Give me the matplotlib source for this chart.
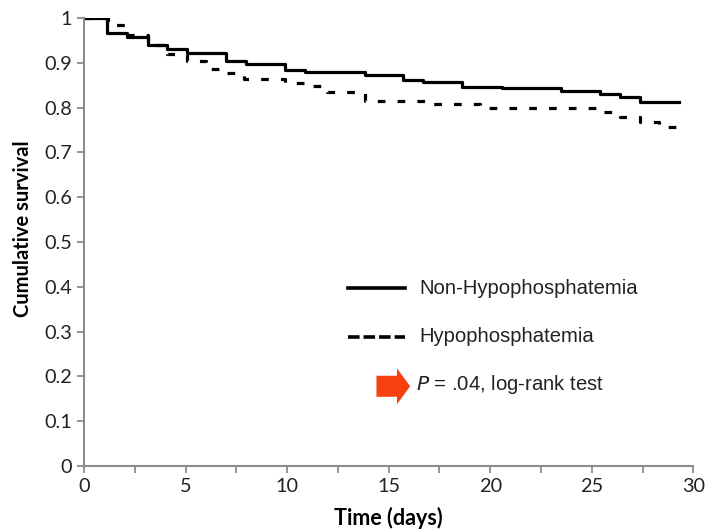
"""Kaplan-Meier style cumulative survival: hypophosphatemia vs not."""
import matplotlib
matplotlib.use("Agg")
import matplotlib.pyplot as plt
from matplotlib.patches import FancyArrow

plt.rcParams.update({"font.family": ["Lato", "DejaVu Sans"], "font.size": 14})

# step curves (time in days, survival fraction)
non_hypo_t = [0, 1.13, 2.1, 3.15, 4.1, 5.05, 7.0, 8.0, 9.9, 10.9, 13.85,
              15.7, 16.7, 18.6, 20.6, 23.5, 25.4, 26.4, 27.4, 29.3]
non_hypo_s = [1.0, 0.966, 0.958, 0.94, 0.931, 0.922, 0.904, 0.897, 0.884,
              0.879, 0.872, 0.861, 0.857, 0.846, 0.843, 0.837, 0.83, 0.823,
              0.812, 0.812]

hypo_t = [0, 1.2, 2.1, 3.15, 4.1, 5.05, 6.0, 7.0, 7.9, 9.9, 10.95, 11.95,
          13.85, 16.8, 19.5, 25.4, 26.4, 27.4, 28.3, 29.3, 29.35]
hypo_s = [1.0, 0.985, 0.962, 0.94, 0.92, 0.904, 0.886, 0.877, 0.864, 0.855,
          0.848, 0.836, 0.814, 0.808, 0.800, 0.79, 0.778, 0.767, 0.756,
          0.742, 0.742]

labels = ["Non-Hypophosphatemia", "Hypophosphatemia"]
p_text = "$\\it{P}$ = .04, log-rank test"

x_ticks = [0, 5, 10, 15, 20, 25, 30]
x_minor = [2.5, 7.5, 12.5, 17.5, 22.5, 27.5]
y_ticks = [0, 0.1, 0.2, 0.3, 0.4, 0.5, 0.6, 0.7, 0.8, 0.9, 1]
y_ticklabels = ["0", "0.1", "0.2", "0.3", "0.4", "0.5", "0.6", "0.7", "0.8",
                "0.9", "1"]

fig = plt.figure(figsize=(7.06, 5.31), dpi=100)
ax = fig.add_axes([0.119, 0.1224, 0.863, 0.8436])

ax.step(non_hypo_t, non_hypo_s, where="post", color="black", lw=2.3)
ax.step(hypo_t, hypo_s, where="post", color="black", lw=2.3,
        linestyle=(0, (2.4, 3.8)))

ax.set_xlim(0, 30)
ax.set_ylim(0, 1)
ax.set_xticks(x_ticks)
ax.set_xticks(x_minor, minor=True)
ax.set_yticks(y_ticks)
ax.set_yticklabels(y_ticklabels)
for side in ("top", "right"):
    ax.spines[side].set_visible(False)
for side in ("left", "bottom"):
    ax.spines[side].set_color("#8c8c8c")
    ax.spines[side].set_linewidth(1.5)
ax.tick_params(which="both", direction="out", length=5, width=1.3,
               color="#8c8c8c", labelcolor="#222222", labelsize=14.3)
ax.set_xlabel("Time (days)", fontweight="bold", fontsize=15.5)
ax.set_ylabel("Cumulative survival", fontweight="bold", fontsize=14.5)
ax.xaxis.set_label_coords(0.5, -0.092)
ax.yaxis.set_label_coords(-0.084, 0.53)

# hand-drawn legend as in the original
ax.plot([0.433, 0.527], [0.397, 0.397], transform=ax.transAxes,
        color="black", lw=2.6)
ax.plot([0.433, 0.527], [0.288, 0.288], transform=ax.transAxes,
        color="black", lw=2.6, linestyle=(0, (3.2, 1.1)))
lf = ["Liberation Sans", "DejaVu Sans"]
ax.text(0.550, 0.397, labels[0], transform=ax.transAxes, va="center",
        fontsize=14.6, family=lf, color="#222222")
ax.text(0.550, 0.288, labels[1], transform=ax.transAxes, va="center",
        fontsize=14.6, family=lf, color="#222222")
ax.text(0.545, 0.183, p_text, transform=ax.transAxes, va="center",
        fontsize=14.6, family=lf, color="#222222")
ax.add_patch(FancyArrow(14.4, 0.178, 1.66, 0, width=0.047, head_width=0.08,
                        head_length=0.65, length_includes_head=True,
                        color="#f5400f", lw=0))

fig.savefig("out.png", dpi=100)
